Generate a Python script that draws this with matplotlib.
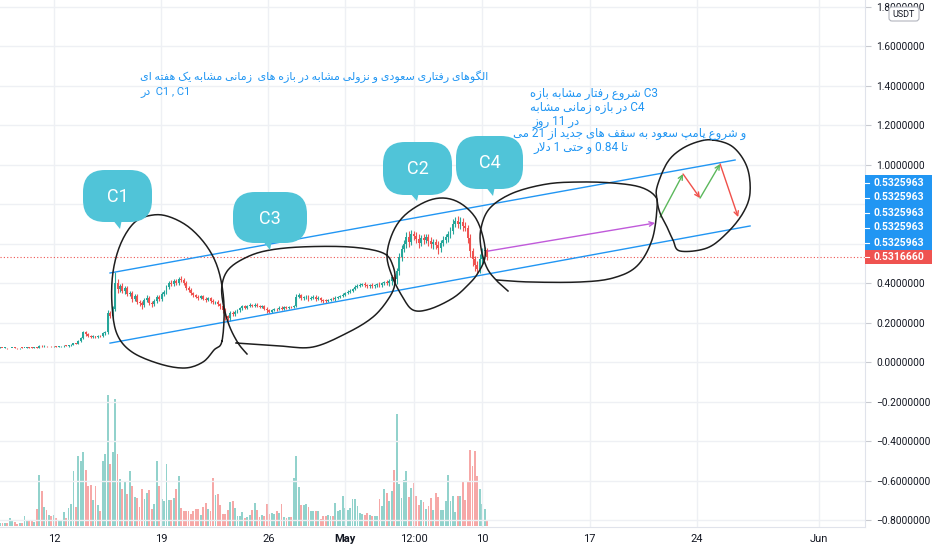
import numpy as np
import matplotlib
matplotlib.use('Agg')
import matplotlib.pyplot as plt
from matplotlib.patches import FancyBboxPatch, Polygon, Rectangle
from matplotlib.transforms import Affine2D

plt.rcParams['font.family'] = ['Roboto', 'DejaVu Sans']

# ---- data: 4h candles, day numbers counted from 1 April ----
t0 = 8.47
step = 0.16
first_open = 0.071
closes = [
    0.072, 0.071, 0.072, 0.070, 0.071, 0.072, 0.071, 0.070, 0.072, 0.071,
    0.072, 0.073, 0.072, 0.071, 0.074, 0.073, 0.083, 0.079, 0.082, 0.080,
    0.081, 0.079, 0.080, 0.078, 0.079, 0.080, 0.083, 0.081, 0.084, 0.087,
    0.095, 0.093, 0.105, 0.120, 0.150, 0.140, 0.132, 0.128, 0.131, 0.127,
    0.133, 0.130, 0.145, 0.150, 0.250, 0.235, 0.270, 0.400, 0.370, 0.385,
    0.360, 0.375, 0.345, 0.350, 0.320, 0.335, 0.305, 0.300, 0.290, 0.315,
    0.325, 0.300, 0.295, 0.310, 0.330, 0.320, 0.345, 0.355, 0.380, 0.400,
    0.395, 0.410, 0.400, 0.420, 0.415, 0.400, 0.375, 0.365, 0.350, 0.340,
    0.330, 0.325, 0.332, 0.320, 0.315, 0.322, 0.310, 0.302, 0.305, 0.292,
    0.282, 0.262, 0.232, 0.222, 0.248, 0.242, 0.255, 0.262, 0.272, 0.282,
    0.276, 0.283, 0.290, 0.285, 0.291, 0.286, 0.280, 0.282, 0.271, 0.262,
    0.255, 0.262, 0.270, 0.268, 0.276, 0.271, 0.277, 0.274, 0.280, 0.278,
    0.283, 0.330, 0.338, 0.322, 0.328, 0.331, 0.320, 0.326, 0.331, 0.320,
    0.325, 0.316, 0.311, 0.310, 0.316, 0.320, 0.318, 0.326, 0.331, 0.336,
    0.342, 0.350, 0.356, 0.362, 0.371, 0.380, 0.386, 0.392, 0.396, 0.390,
    0.385, 0.391, 0.384, 0.390, 0.396, 0.391, 0.400, 0.406, 0.399, 0.412,
    0.430, 0.420, 0.460, 0.530, 0.570, 0.600, 0.635, 0.610, 0.650, 0.640,
    0.625, 0.605, 0.630, 0.618, 0.632, 0.612, 0.598, 0.610, 0.594, 0.578,
    0.602, 0.620, 0.632, 0.650, 0.662, 0.700, 0.712, 0.698, 0.710, 0.690,
    0.680, 0.630, 0.560, 0.520, 0.490, 0.470, 0.520, 0.560, 0.565, 0.531666,
]
# wick lengths in thousandths of a dollar
up_wick = [
    2, 1, 2, 1, 2, 1, 2, 1, 1, 2, 1, 2, 1, 2, 2, 1, 4, 2, 2, 1,
    2, 1, 2, 1, 1, 2, 3, 2, 2, 3, 4, 3, 5, 6, 8, 7, 5, 4, 4, 3,
    4, 5, 6, 8, 15, 10, 12, 55, 18, 12, 15, 10, 12, 9, 10, 8, 12, 8, 10, 9,
    12, 8, 7, 10, 9, 12, 8, 10, 9, 12, 15, 8, 10, 12, 14, 10, 8, 9, 8, 7,
    6, 8, 7, 6, 9, 7, 6, 8, 6, 7, 8, 10, 12, 8, 10, 9, 8, 7, 6, 5,
    6, 5, 7, 5, 6, 7, 5, 6, 5, 6, 5, 7, 6, 5, 6, 7, 5, 6, 5, 6,
    5, 15, 12, 8, 8, 7, 6, 8, 6, 8, 7, 6, 5, 6, 5, 6, 7, 6, 5, 6,
    7, 6, 8, 7, 6, 8, 10, 7, 6, 8, 7, 6, 8, 7, 6, 8, 7, 6, 8, 10,
    12, 15, 18, 20, 25, 18, 22, 30, 20, 15, 18, 22, 15, 20, 18, 15, 20, 12, 15, 18,
    15, 20, 18, 15, 20, 25, 22, 30, 25, 20, 18, 15, 20, 18, 15, 22, 25, 20, 18, 10,
]
dn_wick = [
    1, 2, 1, 2, 1, 2, 1, 2, 2, 1, 2, 1, 2, 1, 1, 2, 2, 3, 2, 2,
    1, 2, 1, 2, 2, 1, 2, 2, 3, 2, 3, 4, 3, 4, 5, 8, 6, 5, 4, 5,
    5, 4, 5, 6, 10, 12, 15, 10, 20, 15, 12, 14, 10, 12, 15, 12, 10, 14, 20, 12,
    10, 12, 15, 10, 12, 9, 12, 10, 8, 10, 12, 10, 9, 12, 10, 9, 10, 12, 8, 10,
    8, 9, 7, 8, 10, 8, 9, 8, 10, 9, 12, 15, 20, 30, 12, 10, 9, 8, 7, 8,
    6, 7, 5, 6, 7, 5, 6, 7, 8, 12, 9, 6, 5, 7, 6, 5, 6, 5, 7, 6,
    6, 5, 7, 6, 8, 10, 12, 8, 7, 9, 8, 10, 12, 9, 8, 7, 6, 7, 8, 6,
    7, 8, 6, 7, 9, 8, 7, 8, 9, 10, 12, 8, 10, 9, 8, 10, 9, 8, 10, 12,
    20, 15, 25, 18, 20, 15, 20, 25, 18, 20, 22, 25, 18, 20, 15, 22, 20, 25, 20, 30,
    20, 15, 18, 22, 20, 15, 18, 20, 22, 25, 18, 25, 30, 35, 28, 25, 20, 22, 18, 15,
]
volumes = [
    3.3, 3.3, 3.3, 3.3, 8.3, 5.0, 4.0, 2.3, 3.3, 3.3,
    9.7, 5.7, 5.0, 6.3, 4.0, 17.3, 50.7, 35.0, 19.0, 16.3,
    10.7, 9.7, 10.7, 8.3, 5.7, 5.0, 14.0, 8.3, 18.3, 22.3,
    55.0, 19.0, 69.7, 64.7, 74.0, 55.7, 39.7, 41.3, 25.7, 39.7,
    20.7, 14.7, 64.7, 71.7, 130.7, 62.3, 74.0, 126.7, 71.7, 47.3,
    36.7, 44.7, 32.3, 55.0, 40.0, 29.0, 28.3, 19.0, 36.7, 27.3,
    33.0, 35.7, 17.3, 22.3, 64.7, 39.7, 26.7, 24.7, 61.7, 25.7,
    25.7, 28.3, 37.3, 49.7, 18.0, 14.7, 14.7, 14.7, 11.7, 14.7,
    17.3, 17.3, 11.3, 18.7, 23.0, 17.3, 14.7, 48.3, 30.7, 31.7,
    20.7, 12.3, 12.3, 16.3, 24.3, 25.0, 18.3, 10.0, 10.0, 14.0,
    8.3, 9.0, 10.7, 15.7, 23.3, 16.3, 9.0, 10.7, 10.0, 21.7,
    12.3, 13.0, 12.3, 15.0, 13.0, 22.3, 9.0, 8.0, 9.0, 9.0,
    48.3, 69.7, 39.0, 20.7, 20.7, 21.7, 19.0, 14.7, 14.7, 15.0,
    15.0, 7.3, 9.7, 9.7, 10.7, 9.7, 9.7, 23.3, 14.7, 15.7,
    30.0, 17.7, 15.7, 18.0, 26.7, 27.3, 19.7, 13.0, 12.3, 11.0,
    13.3, 10.7, 10.0, 9.7, 9.7, 26.7, 19.7, 37.3, 33.0, 25.0,
    34.7, 56.3, 111.7, 42.3, 28.3, 45.7, 55.0, 29.0, 38.0, 43.0,
    29.7, 20.7, 25.7, 24.0, 17.0, 19.7, 28.3, 16.3, 33.3, 29.0,
    16.3, 16.3, 25.0, 51.3, 25.0, 30.0, 14.0, 29.7, 29.7, 44.7,
    25.7, 43.7, 75.7, 59.7, 74.7, 49.7, 37.3, 22.3, 17.3, 4.7,
]

price_ticks = [-0.8, -0.6, -0.4, -0.2, 0.0, 0.2, 0.4, 0.6, 0.8, 1.0, 1.2, 1.4, 1.6, 1.8]
hidden_ticks = [0.6, 0.8]
date_ticks = [12, 19, 26, 31, 35.5, 40, 47, 54, 62]
date_labels = ['12', '19', '26', 'May', '12:00', '10', '17', '24', 'Jun']

# drawings (day, price)
chan_up_d, chan_up_p = [15.66, 56.51], [0.451, 1.023]
chan_lo_d, chan_lo_p = [15.66, 57.49], [0.096, 0.689]
purple_d, purple_p = [40.37, 51.28], [0.562, 0.704]
zig_d = [51.61, 53.11, 54.22, 55.53, 56.71]
zig_p = [0.734, 0.952, 0.830, 1.003, 0.734]
drawn_label = '0.5325963'

top_text = ['الگوهای رفتاری سعودی و نزولی مشابه در بازه های  زمانی مشابه یک هفته ای',
            'در  C1 , C1']
side_text = ['شروع رفتار مشابه بازه C3',
             'در بازه زمانی مشابه C4',
             'در 11 روز',
             'و شروع پامپ سعود به سقف های جدید از 21 می',
             'تا 0.84 و حتی 1 دلار']

# ---- simple Arabic/Persian shaping (isolated, final, initial, medial) ----
FORMS = {
    '\u0627': ('\uFE8D', '\uFE8E', None, None),
    '\u0628': ('\uFE8F', '\uFE90', '\uFE91', '\uFE92'),
    '\u067E': ('\uFB56', '\uFB57', '\uFB58', '\uFB59'),
    '\u062A': ('\uFE95', '\uFE96', '\uFE97', '\uFE98'),
    '\u062C': ('\uFE9D', '\uFE9E', '\uFE9F', '\uFEA0'),
    '\u062D': ('\uFEA1', '\uFEA2', '\uFEA3', '\uFEA4'),
    '\u062F': ('\uFEA9', '\uFEAA', None, None),
    '\u0631': ('\uFEAD', '\uFEAE', None, None),
    '\u0632': ('\uFEAF', '\uFEB0', None, None),
    '\u0633': ('\uFEB1', '\uFEB2', '\uFEB3', '\uFEB4'),
    '\u0634': ('\uFEB5', '\uFEB6', '\uFEB7', '\uFEB8'),
    '\u0639': ('\uFEC9', '\uFECA', '\uFECB', '\uFECC'),
    '\u0641': ('\uFED1', '\uFED2', '\uFED3', '\uFED4'),
    '\u0642': ('\uFED5', '\uFED6', '\uFED7', '\uFED8'),
    '\u06A9': ('\uFB8E', '\uFB8F', '\uFB90', '\uFB91'),
    '\u06AF': ('\uFB92', '\uFB93', '\uFB94', '\uFB95'),
    '\u0644': ('\uFEDD', '\uFEDE', '\uFEDF', '\uFEE0'),
    '\u0645': ('\uFEE1', '\uFEE2', '\uFEE3', '\uFEE4'),
    '\u0646': ('\uFEE5', '\uFEE6', '\uFEE7', '\uFEE8'),
    '\u0647': ('\uFEE9', '\uFEEA', '\uFEEB', '\uFEEC'),
    '\u0648': ('\uFEED', '\uFEEE', None, None),
    '\u06CC': ('\uFBFC', '\uFBFD', '\uFBFE', '\uFBFF'),
    'LA': ('\uFEFB', '\uFEFC', None, None),
}


def shape_word(w):
    letters = []
    i = 0
    while i < len(w):
        if w[i] == '\u0644' and i + 1 < len(w) and w[i + 1] == '\u0627':
            letters.append('LA')
            i += 2
        else:
            letters.append(w[i])
            i += 1
    out = []
    for k, ch in enumerate(letters):
        f = FORMS.get(ch)
        if f is None:
            out.append(ch)
            continue
        prev = letters[k - 1] if k > 0 else None
        nxt = letters[k + 1] if k + 1 < len(letters) else None
        jp = prev in FORMS and FORMS[prev][2] is not None
        jn = f[2] is not None and nxt in FORMS
        if jp and jn:
            out.append(f[3])
        elif jp:
            out.append(f[1])
        elif jn:
            out.append(f[2])
        else:
            out.append(f[0])
    return ''.join(reversed(out))


def kind(tok):
    if any(c in FORMS for c in tok):
        return 'R'
    if any(c.isalpha() for c in tok):
        return 'L'
    return 'N'


def visual(line):
    # left-to-right paragraph; runs of Persian words (with numbers between them) are reversed
    toks = line.split(' ')
    kinds = [kind(t) for t in toks]
    out = []
    i = 0
    while i < len(toks):
        if kinds[i] == 'R':
            j = i
            k = i + 1
            while k < len(toks) and kinds[k] != 'L':
                if kinds[k] == 'R':
                    j = k
                k += 1
            run = [shape_word(t) if kinds[m] == 'R' else t for m, t in enumerate(toks[i:j + 1], i)]
            out.extend(reversed(run))
            i = j + 1
        else:
            out.append(toks[i])
            i += 1
    return ' '.join(out)


def smooth(pts, closed=False, n=10):
    p = np.array(pts, float)
    if closed:
        p = np.vstack([p[-2], p, p[1]])
    else:
        p = np.vstack([p[0], p, p[-1]])
    seg = []
    t = np.linspace(0, 1, n, endpoint=False)[:, None]
    for i in range(1, len(p) - 2):
        p0, p1, p2, p3 = p[i - 1], p[i], p[i + 1], p[i + 2]
        seg.append(0.5 * (2 * p1 + (-p0 + p2) * t + (2 * p0 - 5 * p1 + 4 * p2 - p3) * t ** 2
                          + (-p0 + 3 * p1 - 3 * p2 + p3) * t ** 3))
    seg.append(p[-2][None])
    s = np.vstack(seg)
    return s[:, 0], s[:, 1]


W, H = 932, 550
fig = plt.figure(figsize=(W / 100, H / 100), dpi=100)
fig.patch.set_facecolor('white')
px = Affine2D().scale(1 / W, -1 / H).translate(0, 1) + fig.transFigure

ax = fig.add_axes([0, 23 / H, 865 / W, 527 / H])
vax = ax.twinx()
vax.set_zorder(ax.get_zorder() - 1)
ax.patch.set_visible(False)
vax.patch.set_facecolor('white')

closes = np.array(closes)
opens = np.concatenate([[first_open], closes[:-1]])
days = t0 + np.arange(len(closes)) * step
up = closes >= opens
col = np.where(up, '#26a69a', '#ef5350')
body_lo = np.minimum(opens, closes)
body_hi = np.maximum(opens, closes)
highs = body_hi + np.array(up_wick) / 1000
lows = body_lo - np.array(dn_wick) / 1000

vax.bar(days, volumes, width=0.12, color=col, alpha=0.5, linewidth=0)
vax.set_ylim(-1, 526)
vax.set_yticks([])
for s in vax.spines.values():
    s.set_visible(False)

ax.vlines(days, lows, highs, colors=col, lw=0.8, zorder=3)
ax.bar(days, np.maximum(body_hi - body_lo, 0.003), bottom=body_lo, width=0.125,
       color=col, linewidth=0, zorder=3)

ax.set_xlim(8.47, 65.0)
ax.set_ylim(-0.835, 1.833)
ax.yaxis.tick_right()
ax.set_yticks(price_ticks)
ax.set_yticklabels(['' if v in hidden_ticks else f'{v:.7f}'.replace('-', '\u2212')
                    for v in price_ticks])
ax.set_xticks(date_ticks)
ax.set_xticklabels(date_labels)
ax.get_xticklabels()[3].set_fontweight('bold')
ax.tick_params(axis='y', length=4, color='#c8cad0', labelcolor='#131722',
               labelsize=7.3, pad=4)
ax.tick_params(axis='x', length=0, labelcolor='#131722', labelsize=8, pad=5)
ax.grid(True, color='#eef0f4', lw=1, zorder=0)
for side in ['left', 'top']:
    ax.spines[side].set_visible(False)
for side in ['right', 'bottom']:
    ax.spines[side].set_color('#e0e3eb')

last = closes[-1]
ax.axhline(last, color='#ef5350', lw=0.8, ls=(0, (1, 2)), zorder=2)

# channel and arrows
ax.plot(chan_up_d, chan_up_p, color='#2196f3', lw=1, zorder=4)
ax.plot(chan_lo_d, chan_lo_p, color='#2196f3', lw=1, zorder=4)
ax.annotate('', xy=(purple_d[1], purple_p[1]), xytext=(purple_d[0], purple_p[0]),
            arrowprops=dict(arrowstyle='->', color='#c05ada', lw=1,
                            mutation_scale=8, shrinkA=0, shrinkB=0), zorder=4)
for k in range(len(zig_d) - 1):
    c = '#5cb85c' if zig_p[k + 1] > zig_p[k] else '#f0504a'
    ax.annotate('', xy=(zig_d[k + 1], zig_p[k + 1]), xytext=(zig_d[k], zig_p[k]),
                arrowprops=dict(arrowstyle='->', color=c, lw=1,
                                mutation_scale=8, shrinkA=0, shrinkB=0), zorder=4)

# hand-drawn loops (screen pixels)
loops = [
    ([(222, 341), (224, 305), (219, 272), (208, 248), (190, 228), (170, 217), (153, 215),
      (135, 222), (121, 243), (113, 272), (112, 305), (117, 334), (132, 352), (160, 364),
      (185, 368), (203, 362), (214, 350), (222, 341)], True),
    ([(247, 354), (238, 343), (229, 325), (223, 303), (222, 285), (228, 270), (243, 259),
      (265, 251), (300, 247), (350, 247), (383, 253), (393, 266), (395, 283), (389, 298),
      (373, 317), (347, 333), (313, 347), (280, 346), (250, 344), (236, 343)], False),
    ([(387, 255), (393, 232), (405, 215), (425, 202), (443, 198), (460, 203), (475, 217),
      (483, 237), (485, 257), (478, 273), (468, 285), (453, 298), (430, 309), (413, 310),
      (402, 296), (392, 276), (387, 255)], True),
    ([(508, 291), (497, 281), (487, 268), (481, 248), (481, 228), (490, 208), (513, 193),
      (547, 184), (580, 182), (613, 183), (640, 187), (655, 196), (657, 208), (652, 240),
      (637, 266), (613, 278), (580, 282), (530, 282), (497, 280)], False),
    ([(713, 140), (733, 147), (747, 167), (750, 193), (743, 213), (727, 233), (707, 248),
      (680, 251), (673, 240), (667, 227), (660, 213), (657, 200), (657, 187), (667, 163),
      (680, 150), (697, 142), (713, 140)], True),
]
for pts, closed in loops:
    lx, ly = smooth(pts, closed)
    ax.plot(lx, ly, color='#1e1e1e', lw=1.1, transform=px, zorder=5)

# speech bubbles
bubbles = [('C1', 83, 170, 69, 52, (120, 229)),
           ('C3', 233, 192, 74, 51, (270, 250)),
           ('C2', 383, 142, 69, 53, (417, 201)),
           ('C4', 456, 136, 67, 53, (493, 196))]
for name, bx, by, bw, bh, tip in bubbles:
    ax.add_patch(FancyBboxPatch((bx, by), bw, bh, boxstyle='round,pad=0,rounding_size=22',
                                transform=px, fc='#50c4d8', ec='none', zorder=6))
    ax.add_patch(Polygon([(tip[0] - 8, by + bh - 3), (tip[0] + 2, by + bh - 3), tip],
                         closed=True, transform=px, fc='#50c4d8', ec='none', zorder=6))
    ax.text(bx + bw / 2, by + bh / 2 + 1, name, transform=px, ha='center', va='center',
            color='white', fontsize=13, zorder=7)

# text notes
for k, line in enumerate(top_text):
    ax.text(140, 77 + 15 * k, visual(line), transform=px, ha='left', va='center',
            color='#2196f3', fontsize=8, zorder=7)
side_x = [530, 530, 532, 513, 533]
side_y = [94, 108, 121, 134, 148]
for line, tx, ty in zip(side_text, side_x, side_y):
    ax.text(tx, ty, visual(line), transform=px, ha='left', va='center',
            color='#2196f3', fontsize=8.5, zorder=7)

# price-scale labels
for k in range(5):
    y0 = 175 + 15 * k
    fig.add_artist(Rectangle((865, y0), 67, 15, transform=px, fc='#2196f3', ec='none'))
    fig.add_artist(plt.Line2D([865, 869], [y0 + 7.5, y0 + 7.5], transform=px,
                              color='white', lw=0.8))
    fig.text(874, y0 + 7.5, drawn_label, transform=px, ha='left', va='center',
             color='white', fontsize=7.5, fontweight='bold')

ly = H - ax.transData.transform((20, last))[1]
fig.add_artist(Rectangle((865, ly - 7), 67, 14, transform=px, fc='#ef5350', ec='none'))
fig.add_artist(plt.Line2D([865, 869], [ly, ly], transform=px, color='white', lw=0.8))
fig.text(874, ly, f'{last:.7f}', transform=px, ha='left', va='center',
         color='white', fontsize=7.5, fontweight='bold')

fig.add_artist(FancyBboxPatch((889, 7), 30, 14, boxstyle='round,pad=0,rounding_size=3',
                              transform=px, fc='white', ec='#b2b5be', lw=0.8))
fig.text(904, 14.5, 'USDT', transform=px, ha='center', va='center',
         color='#131722', fontsize=6.5)

fig.savefig('out.png', dpi=100)
